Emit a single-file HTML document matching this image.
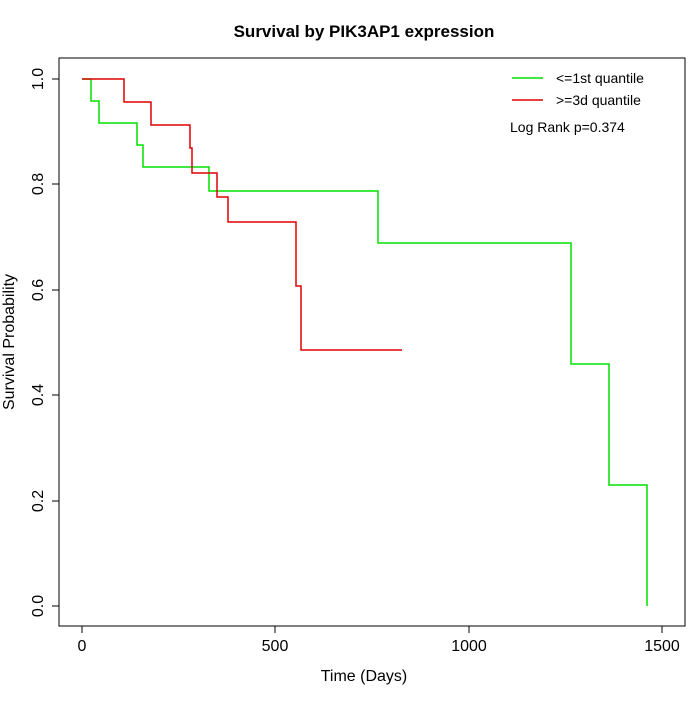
<!DOCTYPE html>
<html><head><meta charset="utf-8"><style>body{margin:0;background:#fff}</style></head><body>
<svg width="700" height="700" xmlns="http://www.w3.org/2000/svg" font-family="Liberation Sans, sans-serif">
<rect width="700" height="700" fill="#fff"/>
<text x="364" y="37" text-anchor="middle" font-size="17" font-weight="bold">Survival by PIK3AP1 expression</text>
<rect x="59" y="58" width="626" height="568" fill="none" stroke="#000"/>
<g stroke="#000">
<line x1="82" y1="626" x2="662" y2="626"/>
<line x1="82" y1="626" x2="82" y2="633"/><line x1="275" y1="626" x2="275" y2="633"/><line x1="469" y1="626" x2="469" y2="633"/><line x1="662" y1="626" x2="662" y2="633"/>
<line x1="59" y1="79" x2="59" y2="606"/>
<line x1="52" y1="606" x2="59" y2="606"/><line x1="52" y1="501" x2="59" y2="501"/><line x1="52" y1="395" x2="59" y2="395"/><line x1="52" y1="290" x2="59" y2="290"/><line x1="52" y1="184" x2="59" y2="184"/><line x1="52" y1="79" x2="59" y2="79"/>
</g>
<g font-size="16" text-anchor="middle">
<text x="82" y="651">0</text><text x="275" y="651">500</text><text x="469" y="651">1000</text><text x="662" y="651">1500</text>
<text x="364" y="681">Time (Days)</text>
</g>
<g font-size="16" text-anchor="middle">
<text transform="translate(43,606) rotate(-90)">0.0</text>
<text transform="translate(43,501) rotate(-90)">0.2</text>
<text transform="translate(43,395) rotate(-90)">0.4</text>
<text transform="translate(43,290) rotate(-90)">0.6</text>
<text transform="translate(43,184) rotate(-90)">0.8</text>
<text transform="translate(43,79) rotate(-90)">1.0</text>
<text transform="translate(14,342) rotate(-90)">Survival Probability</text>
</g>
<polyline fill="none" stroke="#00e000" stroke-width="1.5" points="82,79 91,79 91,101 99,101 99,123 137,123 137,145 143,145 143,167 209,167 209,191 378,191 378,243 571,243 571,364 609,364 609,485 647,485 647,606"/>
<polyline fill="none" stroke="#e00000" stroke-width="1.5" points="82,79 124,79 124,102 151,102 151,125 190,125 190,148 192,148 192,173 217,173 217,197 228,197 228,222 296,222 296,286 301,286 301,350 402,350"/>
<line x1="512" y1="78" x2="543" y2="78" stroke="#00e000" stroke-width="1.5"/>
<line x1="512" y1="100" x2="543" y2="100" stroke="#e00000" stroke-width="1.5"/>
<g font-size="14">
<text x="556" y="83">&lt;=1st quantile</text>
<text x="556" y="105">&gt;=3d quantile</text>
<text x="510" y="132">Log Rank p=0.374</text>
</g>
</svg>
</body></html>
